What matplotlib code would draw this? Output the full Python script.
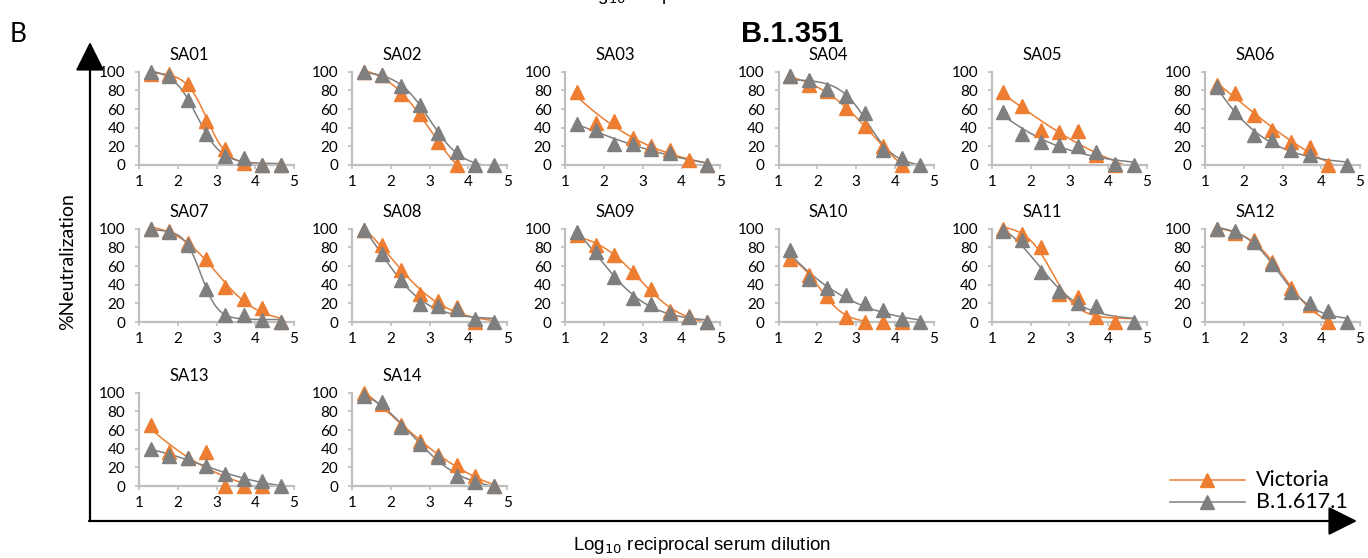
import numpy as np
import matplotlib
matplotlib.use("Agg")
import matplotlib.pyplot as plt
from matplotlib.patches import FancyArrowPatch

# ---- data -------------------------------------------------------------
log_dilution = [1.30, 1.78, 2.26, 2.74, 3.22, 3.70, 4.18, 4.66]
sera = ["SA01", "SA02", "SA03", "SA04", "SA05", "SA06", "SA07",
        "SA08", "SA09", "SA10", "SA11", "SA12", "SA13", "SA14"]

victoria = {
    "SA01": [98, 97, 87, 47, 17, 2, 0, 0],
    "SA02": [100, 96, 76, 55, 25, 0, None, None],
    "SA03": [78, 45, 47, 29, 20, 16, 5, 0],
    "SA04": [95, 86, 79, 61, 42, 20, 0, None],
    "SA05": [78, 63, 37, 35, 36, 11, 0, None],
    "SA06": [86, 77, 54, 37, 25, 19, 0, None],
    "SA07": [100, 98, 85, 67, 37, 25, 15, 0],
    "SA08": [99, 83, 56, 30, 23, 16, 0, None],
    "SA09": [93, 82, 72, 54, 35, 12, 6, 0],
    "SA10": [68, 50, 28, 5, 0, 0, 0, None],
    "SA11": [100, 94, 80, 30, 27, 5, 0, None],
    "SA12": [100, 95, 88, 64, 36, 18, 0, None],
    "SA13": [65, 36, 30, 36, 0, 0, 0, None],
    "SA14": [100, 88, 65, 48, 33, 22, 11, 0],
}
b16171 = {
    "SA01": [100, 95, 70, 33, 10, 8, 0, 0],
    "SA02": [100, 96, 85, 64, 34, 14, 0, 0],
    "SA03": [44, 38, 22, 23, 17, 13, None, 0],
    "SA04": [95, 91, 81, 74, 56, 16, 8, 0],
    "SA05": [57, 33, 25, 21, 20, 14, 1, 0],
    "SA06": [84, 57, 32, 27, 16, 11, None, 0],
    "SA07": [100, 96, 82, 35, 7, 8, 2, 0],
    "SA08": [99, 73, 45, 19, 17, 14, 3, 0],
    "SA09": [96, 75, 48, 26, 19, 10, 5, 0],
    "SA10": [77, 46, 36, 29, 20, 13, 3, 0],
    "SA11": [97, 88, 54, 33, 20, 17, None, 0],
    "SA12": [100, 97, 86, 62, 32, 20, 12, 0],
    "SA13": [40, 32, 30, 21, 13, 8, 5, 0],
    "SA14": [96, 90, 63, 45, 31, 11, 4, 0],
}
series_names = ["Victoria", "B.1.617.1"]
series_colors = ["#ED7D31", "#7F7F7F"]
panel_title = "B.1.351"
x_ticks = [1, 2, 3, 4, 5]
y_ticks = [0, 20, 40, 60, 80, 100]

# ---- helpers ----------------------------------------------------------
W, H = 1368, 558


def fx(px):
    return px / W


def fy(py):
    return 1 - py / H


def fit_logistic(x, y):
    """Least-squares dose-response fit: bottom + amp/(1+10^((x-x50)h))."""
    x = np.asarray(x, float)
    y = np.asarray(y, float)
    best = None
    for x50 in np.linspace(0.3, 5.5, 105):
        for h in np.linspace(0.25, 4.0, 76):
            s = 1.0 / (1.0 + 10 ** ((x - x50) * h))
            A = np.column_stack([np.ones_like(s), s])
            coef, *_ = np.linalg.lstsq(A, y, rcond=None)
            err = np.sum((A @ coef - y) ** 2)
            if best is None or err < best[0]:
                best = (err, x50, h, coef)
    _, x50, h, (bottom, amp) = best
    return lambda t: bottom + amp / (1.0 + 10 ** ((t - x50) * h))


plt.rcParams["font.family"] = ["Lato", "DejaVu Sans"]
fig = plt.figure(figsize=(W / 100, H / 100), dpi=100)
fig.patch.set_facecolor("white")

col_left = [139 + 213.2 * j for j in range(6)]
row_zero = [165, 322, 486]
ax_w, ax_h = 155, 93.3
spine_c = "#BFBFBF"

xs = np.asarray(log_dilution)
for i, name in enumerate(sera):
    r, c = divmod(i, 6)
    left, zero = col_left[c], row_zero[r]
    ax = fig.add_axes([fx(left), fy(zero), fx(ax_w), ax_h / H])
    ax.set_xlim(1, 5)
    ax.set_ylim(0, 100)
    for s in ("top", "right"):
        ax.spines[s].set_visible(False)
    for s in ("left", "bottom"):
        ax.spines[s].set_color(spine_c)
        ax.spines[s].set_linewidth(1.6)
    ax.set_xticks(x_ticks)
    ax.set_yticks(y_ticks)
    ax.tick_params(axis="both", colors=spine_c, length=3, width=1.2,
                   labelcolor="black", labelsize=11)
    ax.tick_params(axis="x", pad=4)
    ax.tick_params(axis="y", pad=7)
    ax.patch.set_alpha(0)

    groups = [victoria[name], b16171[name]]
    # fitted curves, drawn until they reach zero
    for vals, col in zip(groups, series_colors):
        mask = np.array([v is not None for v in vals])
        yv = np.array([v for v in vals if v is not None], float)
        f = fit_logistic(xs[mask], yv)
        t = np.linspace(xs[0], xs[-1], 400)
        yy = f(t)
        below = np.nonzero(yy < 0.8)[0]
        if below.size:
            t, yy = t[:below[0] + 1], yy[:below[0] + 1]
        yy = np.clip(yy, 0, 101)
        ax.plot(t, yy, color=col, lw=1.1, clip_on=False, zorder=2)
    # markers
    for vals, col in zip(groups, series_colors):
        mask = np.array([v is not None for v in vals])
        yv = np.array([v for v in vals if v is not None], float)
        ax.plot(xs[mask], yv, linestyle="none", marker="^", ms=9.5,
                color=col, clip_on=False, zorder=3)

    fig.text(fx(left + 50), fy(zero - ax_h - 17), name, ha="center",
             va="center", fontsize=12)

# large axis arrows
fig.add_artist(FancyArrowPatch((fx(90), fy(521)), (fx(90), fy(42)),
                               transform=fig.transFigure,
                               arrowstyle="-|>,head_length=9,head_width=4.5",
                               lw=1.6, color="black", shrinkA=0, shrinkB=0,
                               mutation_scale=2))
fig.add_artist(FancyArrowPatch((fx(89), fy(521)), (fx(1357), fy(521)),
                               transform=fig.transFigure,
                               arrowstyle="-|>,head_length=9,head_width=4.5",
                               lw=1.6, color="black", shrinkA=0, shrinkB=0,
                               mutation_scale=2))

fig.text(fx(68), fy(262), "%Neutralization", rotation=90, ha="center",
         va="center", fontsize=14)
fig.text(fx(702), fy(545), r"Log$_{10}$ reciprocal serum dilution",
         ha="center", va="center", fontsize=13.5,
         family=["Liberation Sans", "DejaVu Sans"])
fig.text(fx(706), fy(-0.5), r"Log$_{10}$ reciprocal serum dilution",
         ha="center", va="baseline", fontsize=13.5,
         family=["Liberation Sans", "DejaVu Sans"])
fig.text(fx(10), fy(34), "B", ha="left", va="center", fontsize=19)
fig.text(fx(792), fy(34), panel_title, ha="center", va="center",
         fontsize=21, fontweight="bold",
         family=["Liberation Sans", "DejaVu Sans"])

# legend
leg_y = [480, 502]
for name, col, yy in zip(series_names, series_colors, leg_y):
    fig.add_artist(plt.Line2D([fx(1170), fx(1245)], [fy(yy), fy(yy)],
                              color=col, lw=1.1))
    fig.add_artist(plt.Line2D([fx(1207)], [fy(yy)], marker="^", ms=10.5,
                              color=col, linestyle="none"))
    fig.text(fx(1256), fy(yy), name, ha="left", va="center", fontsize=15.5)

fig.savefig("out.png", dpi=100)
